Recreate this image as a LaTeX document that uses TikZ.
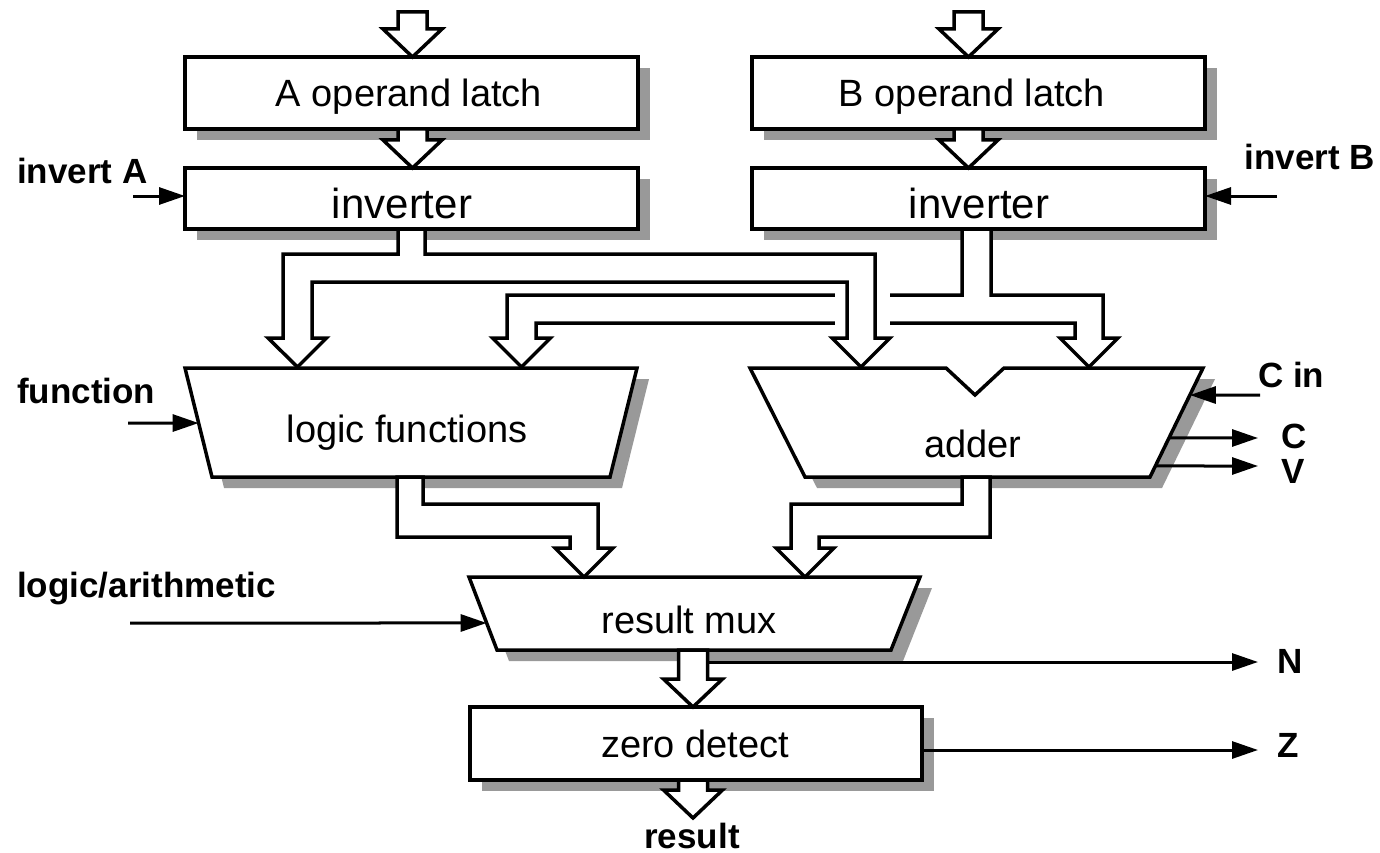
\documentclass[tikz,border=0pt]{standalone}
\usepackage{fontspec}
\setmainfont{Liberation Sans}
\usetikzlibrary{arrows.meta,calc,shadows}

\tikzset{
  shadowed/.style={drop shadow={shadow xshift=12pt,shadow yshift=-11pt,fill=black!40,opacity=1}},
  box/.style={draw,line width=3.5pt,fill=white,inner sep=0pt,outer sep=0pt,shadowed},
  blockedge/.style={draw,line width=3.5pt,fill=white,line join=miter,shadowed},
  bus/.style={draw,line width=3.5pt,fill=white,line join=miter},
  sig/.style={line width=3pt,-{Triangle[length=26pt,width=17pt]}},
  boxlabel/.style={font=\fontsize{38}{40}\selectfont,anchor=base,inner sep=0pt},
  invlabel/.style={font=\fontsize{42}{44}\selectfont,anchor=base,inner sep=0pt},
  sidelabel/.style={font=\bfseries\fontsize{35}{38}\selectfont,anchor=base west,inner sep=0pt},
}

% hollow bus arrow pointing down; #1 = tip, #2 = shaft length
\newcommand\busdown[2]{%
  \draw[bus] (#1) -- ++(-29.5,-28) -- ++(15,0) -- ++(0,-#2) -- ++(29,0)
    -- ++(0,#2) -- ++(15,0) -- cycle;}

\begin{document}
\begin{tikzpicture}[x=1pt,y=-1pt]
\useasboundingbox (0,0) rectangle (1380,853);

% ---------- rectangular blocks ----------
\node[box,minimum width=453pt,minimum height=72pt] (latchA) at (411.5,93) {};
\node[box,minimum width=453pt,minimum height=72pt] (latchB) at (978.5,93) {};
\node[box,minimum width=453pt,minimum height=61pt] (invA) at (411.5,198.5) {};
\node[box,minimum width=453pt,minimum height=61pt] (invB) at (978.5,198.5) {};
\node[box,minimum width=452pt,minimum height=73pt] (zero) at (696,743.5) {};

% ---------- trapezoid blocks ----------
\coordinate (lgTL) at (185,368);  \coordinate (lgTR) at (637,368);
\coordinate (lgBR) at (610,477);  \coordinate (lgBL) at (212,477);
\draw[blockedge] (lgTL) -- (lgTR) -- (lgBR) -- (lgBL) -- cycle;

\coordinate (adTL) at (750,368);  \coordinate (adTR) at (1203,368);
\coordinate (adBR) at (1150,477); \coordinate (adBL) at (805,477);
\draw[blockedge] (adTL) -- (946,368) -- (975,395) -- (1004,368) -- (adTR)
  -- (adBR) -- (adBL) -- cycle;

\coordinate (muxTL) at (469,577); \coordinate (muxTR) at (920,577);
\coordinate (muxBR) at (891,650); \coordinate (muxBL) at (497,650);
\draw[blockedge] (muxTL) -- (muxTR) -- (muxBR) -- (muxBL) -- cycle;

% ---------- straight buses ----------
\coordinate (inA) at ($(latchA.north)+(1,0)$);
\coordinate (inB) at ($(latchB.north)+(-10,0)$);
\busdown{inA}{17}
\busdown{inB}{17}
\busdown{$(invA.north)+(1,0)$}{11}
\busdown{$(invB.north)+(-10,0)$}{11}
\coordinate (zin) at ($(zero.north)+(-3,0)$);
\busdown{zin}{29}
\coordinate (zout) at ($(zero.south)+(-3,38)$);
\busdown{zout}{10}

% ---------- B operand bus: to logic functions and adder ----------
\draw[bus] (962,229) -- (962,295) -- (507,295) -- (507,338) -- (492.5,338)
  -- (521.5,367) -- (550.5,338) -- (536,338) -- (536,323) -- (1075,323)
  -- (1075,338) -- (1060,338) -- (1089,367) -- (1118,338) -- (1103,338)
  -- (1103,295) -- (991,295) -- (991,229) -- cycle;
% crossing gap where the A bus passes over
\fill[white] (835,289) rectangle (890,329);

% ---------- A operand bus: to logic functions and adder ----------
\draw[bus] (398,229) -- (398,254) -- (283,254) -- (283,338) -- (268,338)
  -- (297.5,367) -- (326.5,338) -- (312,338) -- (312,282) -- (847,282)
  -- (847,338) -- (832,338) -- (861,367) -- (890,338) -- (875,338)
  -- (875,254) -- (425,254) -- (425,229) -- cycle;

% ---------- outputs into the result mux ----------
\draw[bus] (397,477) -- (397,537) -- (570,537) -- (570,548) -- (555,548)
  -- (584,577) -- (613,548) -- (598,548) -- (598,504) -- (423,504)
  -- (423,477) -- cycle;
\draw[bus] (962,477) -- (962,504) -- (791,504) -- (791,548) -- (776,548)
  -- (805,577) -- (834,548) -- (819,548) -- (819,537) -- (990,537)
  -- (990,477) -- cycle;

% ---------- control and flag lines ----------
\coordinate (invAin) at (133,196);
\draw[sig] (invAin) -- (invAin -| invA.west);
\coordinate (invBin) at (1277,196);
\draw[sig] (invBin) -- (invBin -| invB.east);
\coordinate (fnin) at (128,423);
\draw[sig] (fnin) -- ($(lgTL)!0.505!(lgBL)$);
\coordinate (lain) at (130,623);
\draw[sig] (lain) -- ($(muxTL)!0.63!(muxBL)$);
\coordinate (cin) at (1260,395);
\draw[sig] (cin) -- ($(adTR)!0.248!(adBR)$);
\coordinate (cout) at (1258,438);
\draw[sig] ($(adTR)!0.642!(adBR)$) -- (cout);
\coordinate (vout) at (1258,466);
\draw[sig] ($(adTR)!0.899!(adBR)$) -- (vout);
\coordinate (ntap) at (707,662);
\coordinate (nout) at (1258,662);
\draw[sig] (ntap) -- (nout);
\coordinate (ztap) at ($(zero.east)+(0,6.5)$);
\coordinate (zflag) at (1258,750);
\draw[sig] (ztap) -- (zflag);

% ---------- block labels ----------
\node[boxlabel] (tLatchA) at (409,107) {A operand latch};
\node[boxlabel] (tLatchB) at (972,107) {B operand latch};
\node[invlabel] (tInvA) at (402,218) {inverter};
\node[invlabel] (tInvB) at (979,218) {inverter};
\node[boxlabel] (tLogic) at (407,442) {logic functions};
\node[boxlabel] (tAdder) at (973,457) {adder};
\node[boxlabel] (tMux) at (689,633) {result mux};
\node[boxlabel] (tZero) at (695,757) {zero detect};

% ---------- signal labels ----------
\node[sidelabel] (lInvA) at (17,183) {invert A};
\node[sidelabel,anchor=base east] (lInvB) at (1375,170) {invert B};
\node[sidelabel] (lFn) at (17,403) {function};
\node[sidelabel] (lLA) at (17,597) {logic/arithmetic};
\node[sidelabel] (lCin) at (1258,387) {C in};
\node[sidelabel] (lC) at (1281,448) {C};
\node[sidelabel] (lV) at (1281,483) {V};
\node[sidelabel] (lN) at (1277,673) {N};
\node[sidelabel] (lZ) at (1277,757) {Z};
\node[sidelabel,anchor=base] (lRes) at (692,848) {result};
\end{tikzpicture}
\end{document}
